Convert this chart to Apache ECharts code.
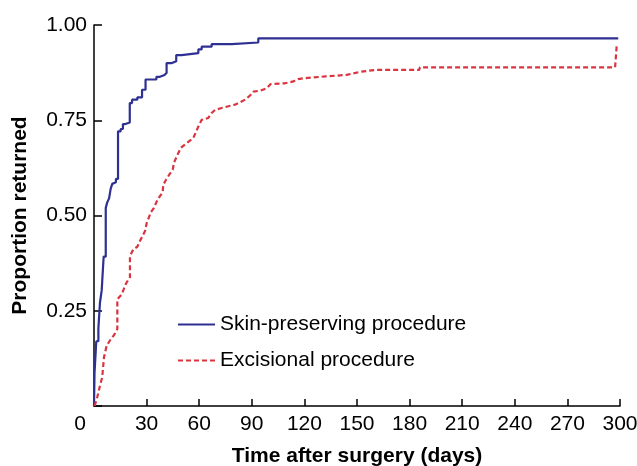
<!DOCTYPE html>
<html>
<head>
    <meta charset="utf-8">
    <title>Proportion returned</title>
    <script src="https://cdn.jsdelivr.net/npm/echarts@6/dist/echarts.min.js"></script>
    <style>
        body { margin: 0; padding: 0; background: #fff; }
        #main { width: 637px; height: 466px; }
    </style>
</head>
<body>
    <div id="main"></div>
    <script type="text/javascript">
        // x tick labels (days) and y tick labels
        var xTicks = [0, 30, 60, 90, 120, 150, 180, 210, 240, 270, 300];
        var yTicks = [0.25, 0.50, 0.75, 1.00];

        // Skin-preserving procedure (step curve)
        var skinDays = [0, 0.3, 1.3, 2.5, 3.4, 4.4, 5.5, 6.7, 7.6, 8.6, 9.5, 10.4, 11.4, 12.5, 13.7, 15.2, 16.5, 17.9, 20.4, 21.7, 24.7, 27.4, 29.4, 35.6, 37.6, 40.2, 41.4, 44.5, 46.9, 50.0, 59.5, 61.4, 67.1, 78.5, 93.7, 299];
        var skinVals = [0, 0.086, 0.170, 0.204, 0.271, 0.304, 0.392, 0.520, 0.535, 0.545, 0.570, 0.583, 0.587, 0.596, 0.721, 0.727, 0.740, 0.744, 0.795, 0.804, 0.810, 0.830, 0.857, 0.864, 0.869, 0.874, 0.900, 0.905, 0.921, 0.926, 0.936, 0.943, 0.950, 0.954, 0.965, 0.965];

        // Excisional procedure
        var excDays = [0.4, 1.9, 3.4, 4.7, 5.7, 7.2, 9.5, 11.4, 13.3, 13.3, 15.8, 18.3, 20.5, 20.5, 22.4, 24.7, 26.2, 29.1, 30.1, 32.5, 34.2, 35.8, 37.6, 39.2, 39.5, 41.1, 42.9, 44.9, 45.6, 46.8, 48.1, 49.6, 52.9, 56.6, 58.7, 60.5, 61.4, 65.2, 67.1, 69.0, 72.8, 80.4, 83.3, 86.5, 89.0, 90.9, 95.1, 98.5, 100.8, 108.9, 113.7, 116.5, 119.4, 131.8, 144.1, 151.7, 160.3, 185.5, 185.9, 297.2, 298.1];
        var excVals = [0, 0.024, 0.053, 0.076, 0.128, 0.158, 0.175, 0.186, 0.202, 0.280, 0.293, 0.322, 0.338, 0.393, 0.411, 0.418, 0.433, 0.459, 0.481, 0.509, 0.520, 0.537, 0.551, 0.561, 0.581, 0.594, 0.607, 0.620, 0.638, 0.651, 0.664, 0.678, 0.690, 0.703, 0.725, 0.743, 0.751, 0.756, 0.769, 0.777, 0.782, 0.791, 0.797, 0.805, 0.815, 0.825, 0.828, 0.834, 0.845, 0.847, 0.852, 0.858, 0.860, 0.865, 0.869, 0.877, 0.882, 0.882, 0.889, 0.889, 0.945];

        function pairs(xs, ys) {
            var out = [];
            for (var i = 0; i < xs.length; i++) {
                out.push([xs[i], ys[i]]);
            }
            return out;
        }

        var font = "'Liberation Sans', Arial, Helvetica, sans-serif";
        var chart = echarts.init(document.getElementById('main'));

        var option = {
            animation: false,
            textStyle: { fontFamily: font },
            grid: { left: 94, right: 17, top: 25, bottom: 60, outerBoundsMode: 'none', containLabel: false },
            legend: {
                orient: 'vertical',
                left: 177,
                top: 314,
                padding: 0,
                itemWidth: 37,
                itemHeight: 21,
                itemGap: 15,
                itemStyle: { opacity: 0 },
                textStyle: { fontSize: 21, color: '#000', fontFamily: font },
                data: ['Skin-preserving procedure', 'Excisional procedure']
            },
            xAxis: {
                type: 'value',
                min: xTicks[0],
                max: xTicks[xTicks.length - 1],
                interval: 30,
                name: 'Time after surgery (days)',
                nameLocation: 'middle',
                nameGap: 40,
                nameTextStyle: { fontSize: 21, fontWeight: 'bold', color: '#000', fontFamily: font },
                axisLine: { lineStyle: { color: '#000', width: 1.5 } },
                axisTick: { inside: true, length: 7, lineStyle: { color: '#000', width: 1.5 } },
                axisLabel: {
                    fontSize: 21, color: '#000', margin: 8,
                    formatter: function (v) { return v === 0 ? '{z|0}' : String(v); },
                    rich: { z: { fontSize: 21, color: '#000', padding: [0, 28, 0, 0] } }
                },
                splitLine: { show: false }
            },
            yAxis: {
                type: 'value',
                min: 0,
                max: yTicks[yTicks.length - 1],
                interval: 0.25,
                name: 'Proportion returned',
                nameLocation: 'middle',
                nameGap: 63,
                nameTextStyle: { fontSize: 21, fontWeight: 'bold', color: '#000', fontFamily: font },
                axisLine: { lineStyle: { color: '#000', width: 1.5 } },
                axisTick: { inside: true, length: 8, lineStyle: { color: '#000', width: 1.5 } },
                axisLabel: {
                    fontSize: 21, color: '#000', margin: 7,
                    formatter: function (v) { return v === 0 ? '' : v.toFixed(2); }
                },
                splitLine: { show: false }
            },
            series: [
                {
                    name: 'Skin-preserving procedure',
                    type: 'line',
                    step: 'end',
                    symbol: 'none',
                    data: pairs(skinDays, skinVals),
                    lineStyle: { color: '#2e3192', width: 2.2 },
                    itemStyle: { color: '#2e3192' }
                },
                {
                    name: 'Excisional procedure',
                    type: 'line',
                    symbol: 'none',
                    data: pairs(excDays, excVals),
                    lineStyle: { color: '#d9343f', width: 2.2, type: [5, 3] },
                    itemStyle: { color: '#d9343f' }
                }
            ]
        };
        chart.setOption(option);
    </script>
</body>
</html>
